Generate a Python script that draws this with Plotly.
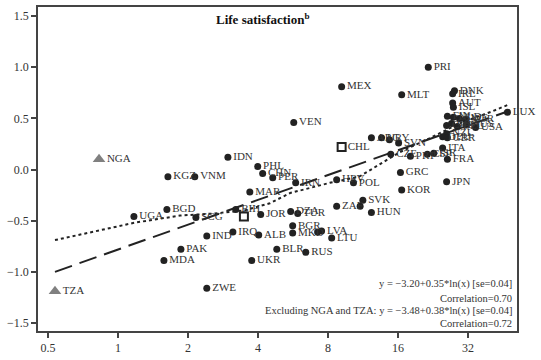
import math
import plotly.graph_objects as go

# ---------------- data ----------------
# GDP per capita (thousands, log axis) and life satisfaction score
countries = ["PRI", "MEX", "MLT", "DNK", "IRL", "AUT", "ISL", "LUX", "FIN", "NLD",
             "SWE", "NOR", "CHE", "CAN", "BEL", "AUS", "USA", "NZL", "DEU", "GBR",
             "ITA", "FRA", "JPN", "ESP", "ISR", "PRT", "GRC", "KOR", "CZE", "ARG",
             "URY", "", "SVN", "HRV", "POL", "SVK", "", "HUN", "ZAF", "LTU",
             "LVA", "", "BGR", "MKD", "BLR", "RUS", "UKR", "ALB", "IRQ", "IND",
             "PAK", "MDA", "ZWE", "BGD", "UGA", "SCG", "KGZ", "VNM", "IDN", "PHL",
             "CHN", "PER", "IRN", "VEN", "MAR", "BIH", "JOR", "DZA", "TUR"]
gdp = [21.6, 9.16, 16.6, 28.0, 27.5, 27.5, 27.7, 47.3, 26.1, 27.7,
       29.4, 31.2, 25.9, 27.2, 28.8, 31.5, 34.5, 25.9, 24.9, 26.1,
       24.9, 26.1, 25.9, 21.4, 22.8, 18.1, 16.4, 16.6, 14.9, 12.3,
       13.6, 14.7, 16.1, 8.72, 10.3, 11.3, 11.0, 12.3, 8.72, 8.3,
       7.51, 7.22, 5.64, 5.64, 4.82, 6.42, 3.76, 4.03, 3.12, 2.41,
       1.865, 1.576, 2.41, 1.623, 1.171, 2.163, 1.64, 2.14, 2.97, 3.99,
       4.19, 4.63, 5.81, 5.70, 3.69, 3.21, 4.11, 5.53, 5.93]
life_sat = [1.00, 0.81, 0.73, 0.77, 0.74, 0.65, 0.61, 0.56, 0.52, 0.51,
            0.50, 0.49, 0.43, 0.45, 0.42, 0.44, 0.41, 0.35, 0.32, 0.31,
            0.21, 0.10, -0.12, 0.15, 0.16, 0.13, -0.03, -0.20, 0.15, 0.31,
            0.31, 0.29, 0.26, -0.10, -0.13, -0.30, -0.36, -0.42, -0.36, -0.67,
            -0.60, -0.61, -0.55, -0.62, -0.78, -0.81, -0.89, -0.64, -0.61, -0.65,
            -0.78, -0.89, -1.16, -0.39, -0.46, -0.47, -0.07, -0.07, 0.12, 0.03,
            -0.04, -0.08, -0.13, 0.46, -0.22, -0.39, -0.44, -0.41, -0.43]

# excluded outliers (triangles)
out_countries = ["NGA", "TZA"]
out_gdp = [0.829, 0.536]
out_life = [0.10, -1.19]

# open squares
sq_countries = ["CHL", ""]
sq_gdp = [9.16, 3.48]
sq_life = [0.22, -0.46]

# fitted log-linear line (x in thousands -> ln of dollars)
fit_a, fit_b = -3.20, 0.35
fit_x = [0.536, 47.3]
fit_y = [fit_a + fit_b * math.log(1000 * v) for v in fit_x]

# nonparametric smoother (dotted)
smooth_x = [0.536, 1.18, 1.85, 2.6, 3.5, 4.5, 5.5, 8.15, 10.9, 16.3, 21.2, 29.4, 40.8, 47.3]
smooth_y = [-0.69, -0.52, -0.45, -0.43, -0.40, -0.33, -0.23, -0.13, -0.07, 0.17, 0.29, 0.45, 0.57, 0.63]

x_ticks = [0.5, 1, 2, 4, 8, 16, 32]
x_tick_text = ["0.5", "1", "2", "4", "8", "16", "32"]
y_ticks = [-1.5, -1.0, -0.5, 0.0, 0.5, 1.0, 1.5]
y_tick_text = ["\u22121.5", "\u22121.0", "\u22120.5", "0.0", "0.5", "1.0", "1.5"]

SERIF = "Liberation Serif"
LABEL_FONT = dict(family=SERIF, size=11, color="#333333")

fig = go.Figure()

fig.add_trace(go.Scatter(
    x=smooth_x, y=smooth_y, mode="lines",
    line=dict(color="#222222", width=2, dash="dot"), hoverinfo="skip"))

fig.add_trace(go.Scatter(
    x=fit_x, y=fit_y, mode="lines",
    line=dict(color="#222222", width=2, dash="18px,8px"), hoverinfo="skip"))

fig.add_trace(go.Scatter(
    x=gdp, y=life_sat, mode="markers+text", text=countries,
    textposition="middle right", textfont=LABEL_FONT, cliponaxis=False,
    marker=dict(color="#222222", size=7, symbol="circle")))

fig.add_trace(go.Scatter(
    x=sq_gdp, y=sq_life, mode="markers+text", text=sq_countries,
    textposition="middle right", textfont=LABEL_FONT, cliponaxis=False,
    marker=dict(color="#222222", size=8, symbol="square-open", line=dict(width=2))))

fig.add_trace(go.Scatter(
    x=out_gdp, y=out_life, mode="markers+text", text=out_countries,
    textposition="middle right", textfont=LABEL_FONT, cliponaxis=False,
    marker=dict(color="#808080", size=11, symbol="triangle-up")))

axis_common = dict(
    showline=True, linewidth=1.5, linecolor="#444444", mirror=True,
    ticks="outside", ticklen=5, tickwidth=1.5, tickcolor="#444444",
    showgrid=False, zeroline=False,
    tickfont=dict(family=SERIF, size=12, color="#333333"))

fig.update_layout(
    width=541, height=360, autosize=False,
    margin=dict(l=38, r=24, t=5, b=28),
    plot_bgcolor="white", paper_bgcolor="white",
    showlegend=False,
    xaxis=dict(type="log", range=[math.log10(0.453), math.log10(52.0)],
               tickvals=x_ticks, ticktext=x_tick_text, **axis_common),
    yaxis=dict(range=[-1.579, 1.589], tickvals=y_ticks, ticktext=y_tick_text,
               **axis_common),
)

ann_font = dict(family=SERIF, size=10.5, color="#333333")
fig.add_annotation(x=0.47, y=0.963, xref="paper", yref="paper", showarrow=False,
                   yanchor="middle",
                   text="<b>Life satisfaction<sup>b</sup></b>",
                   font=dict(family=SERIF, size=13, color="#111111"))
lines = [("y = \u22123.20+0.35*ln(x) [se=0.04]", 0.144),
         ("Correlation=0.70", 0.101),
         ("Excluding NGA and TZA: y = \u22123.48+0.38*ln(x) [se=0.04]", 0.062),
         ("Correlation=0.72", 0.024)]
for txt, yy in lines:
    fig.add_annotation(x=0.994, y=yy, xref="paper", yref="paper", showarrow=False,
                       xanchor="right", yanchor="middle", text=txt, font=ann_font)

fig.write_html("out.html", config={"displayModeBar": False},
               post_script="document.body.style.margin='0';")
